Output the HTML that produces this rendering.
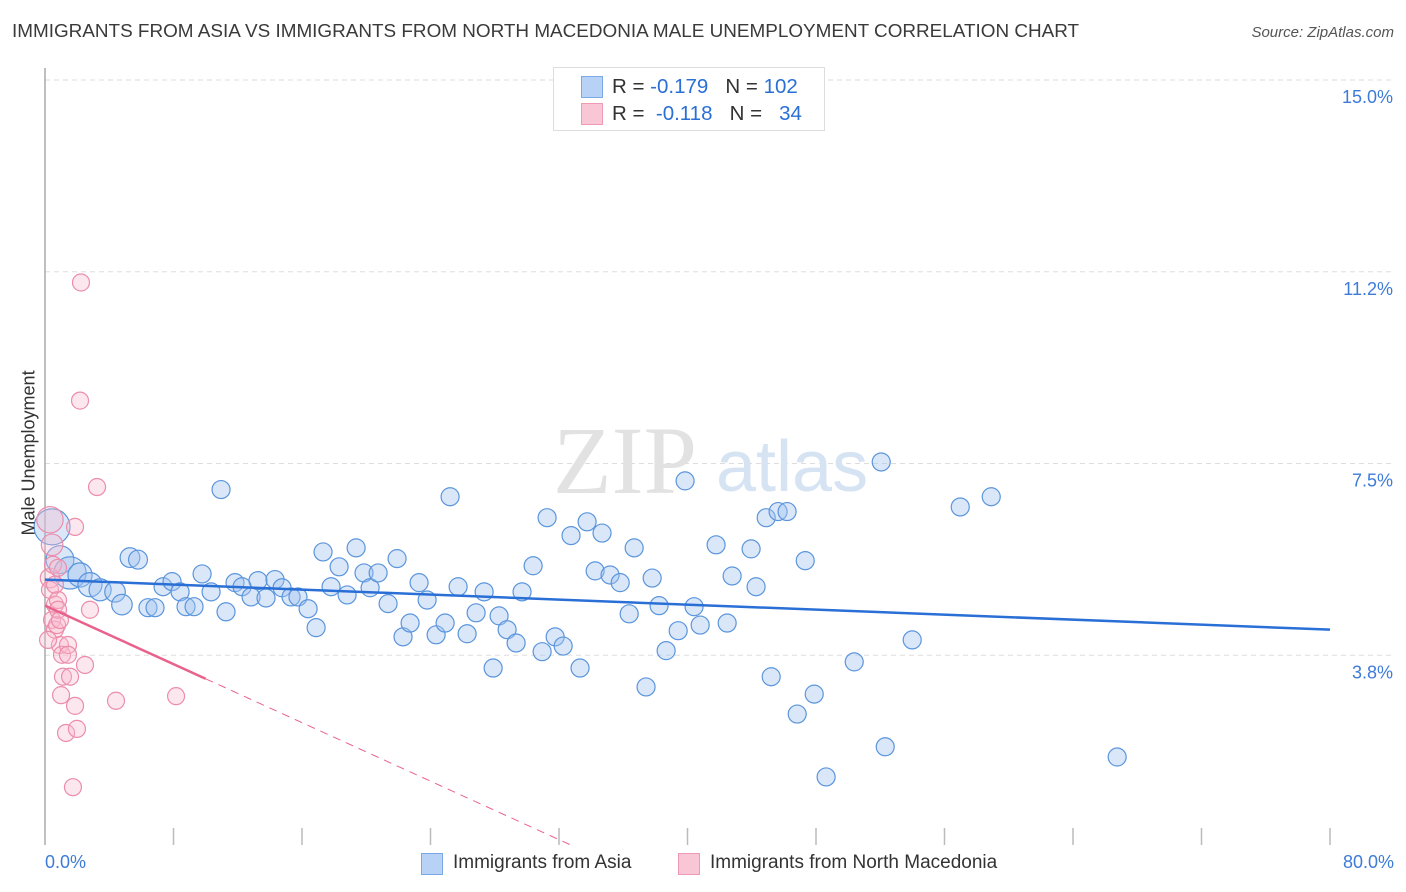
<!DOCTYPE html>
<html><head><meta charset="utf-8"><style>
body{margin:0;background:#fff;font-family:"Liberation Sans",sans-serif;}
#wrap{position:relative;width:1406px;height:892px;overflow:hidden;}
.t{position:absolute;white-space:nowrap;}
</style></head><body>
<div id="wrap">
<div class="t" style="left:12px;top:21px;font-size:18.9px;color:#3a3a3a;">IMMIGRANTS FROM ASIA VS IMMIGRANTS FROM NORTH MACEDONIA MALE UNEMPLOYMENT CORRELATION CHART</div>
<div class="t" style="right:12px;top:24px;font-size:15px;color:#555;font-style:italic;">Source: ZipAtlas.com</div>
<svg id="svg" width="1406" height="892" style="position:absolute;left:0;top:0"></svg>
</div>
<script>
const yTicks=[3.75,7.5,11.25,15];
const yTickLabels=["3.8%","7.5%","11.2%","15.0%"];
const xTickValues=[0,8,16,24,32,40,48,56,64,72,80];
const blueX=[0.44,0.93,1.56,2.18,2.80,3.43,4.36,4.79,5.29,5.79,6.41,6.85,7.35,7.91,8.41,8.78,9.28,9.78,10.34,10.96,11.27,11.83,12.27,12.83,13.26,13.76,14.32,14.76,15.32,15.75,16.38,16.88,17.31,17.81,18.31,18.81,19.37,19.86,20.24,20.74,21.36,21.92,22.29,22.73,23.29,23.79,24.35,24.91,25.22,25.72,26.28,26.84,27.34,27.90,28.27,28.77,29.33,29.70,30.39,30.95,31.26,31.76,32.26,32.75,33.31,33.75,34.25,34.68,35.18,35.81,36.37,36.68,37.42,37.80,38.23,38.67,39.42,39.85,40.41,40.79,41.78,42.47,42.78,43.96,44.27,44.90,45.21,45.64,46.20,46.83,47.33,47.89,48.63,50.38,52.06,52.31,53.99,56.98,58.91,66.75];
const blueY=[6.26,5.62,5.36,5.32,5.13,5.03,4.99,4.74,5.66,5.62,4.68,4.68,5.09,5.19,4.99,4.70,4.70,5.34,4.99,6.99,4.60,5.17,5.09,4.89,5.21,4.87,5.23,5.07,4.89,4.89,4.66,4.29,5.77,5.09,5.48,4.93,5.85,5.36,5.07,5.36,4.76,5.64,4.11,4.38,5.17,4.83,4.15,4.38,6.85,5.09,4.17,4.58,4.99,3.50,4.52,4.25,3.99,4.99,5.50,3.82,6.44,4.11,3.93,6.09,3.50,6.36,5.40,6.14,5.32,5.17,4.56,5.85,3.13,5.26,4.72,3.84,4.23,7.16,4.70,4.34,5.91,4.38,5.30,5.83,5.09,6.44,3.33,6.56,6.56,2.60,5.60,2.99,1.37,3.62,7.53,1.96,4.05,6.65,6.85,1.76];
const blueWeight=[4,2.4,3.2,1.8,1.8,1.5,1.3,1.3,1.2,1.1];
const pinkX=[0.31,0.44,0.31,0.31,0.62,0.81,0.44,0.62,0.75,0.93,1.06,1.43,1.43,1.12,1.56,1.00,1.87,1.31,1.99,1.74,1.87,2.24,2.18,3.24,2.80,2.49,4.42,8.16,0.81,0.62,0.50,0.81,0.19,0.93];
const pinkY=[6.40,5.91,5.26,5.03,4.74,4.83,4.44,4.25,4.34,3.95,3.76,3.95,3.76,3.33,3.33,2.97,2.76,2.23,2.31,1.17,6.26,11.04,8.73,7.04,4.64,3.56,2.86,2.95,4.64,5.13,5.52,5.46,4.05,4.44];
const pinkWeight=[2.4,1.6,1.3];
const blueTrend=[5.23,-0.01225];
const pinkTrend=[4.72,-0.143];
const NS="http://www.w3.org/2000/svg";
const svg=document.getElementById('svg');
const X0=45,X1=1330,YT=80,YB=847;
const xs=v=>X0+(v/80)*(X1-X0);
const ys=v=>YB-(v/15)*(YB-YT);
function mk(tag,attrs,parent){const e=document.createElementNS(NS,tag);for(const k in attrs)e.setAttribute(k,attrs[k]);(parent||svg).appendChild(e);return e;}
yTicks.forEach((t,i)=>{
 const g=mk('line',{x1:X0,x2:1393,y1:ys(t),y2:ys(t),stroke:'#ddd','stroke-dasharray':'5,4'});
 
 
 const tx=mk('text',{x:1393,y:ys(t)+23,'text-anchor':'end','font-size':18,fill:'#3d7bd9','font-family':'Liberation Sans'});
 tx.textContent=yTickLabels[i];
 
 
});
const ax=mk('line',{x1:X0,x2:X0,y1:68,y2:845,stroke:'#aaa','stroke-width':1.5});


xTickValues.forEach(v=>{
 const tk=mk('line',{x1:xs(v),x2:xs(v),y1:828,y2:845,stroke:'#bbb','stroke-width':1.5});
 
 
});
const wm=mk('text',{x:553,y:493,'font-size':96,fill:'#e2e2e2','font-family':'Liberation Serif'});
wm.textContent='ZIP';


const wm2=mk('text',{x:716,y:491,'font-size':72,fill:'#d6e3f3','font-family':'Liberation Sans'});
wm2.textContent='atlas';


blueX.forEach((x,i)=>{
 const w=blueWeight[i]||1;
 const c=mk('circle',{cx:xs(x),cy:ys(blueY[i]),r:9*Math.sqrt(w),fill:'rgba(160,196,240,0.4)',stroke:'#5b95dc','stroke-width':1.2});
 
 
});
pinkX.forEach((x,i)=>{
 const w=pinkWeight[i]||1;
 const c=mk('circle',{cx:xs(x),cy:ys(pinkY[i]),r:8.5*Math.sqrt(w),fill:'rgba(248,185,205,0.35)',stroke:'#eb8dab','stroke-width':1.2});
 
 
});
const bl=mk('line',{x1:xs(0),y1:ys(blueTrend[0]),x2:xs(80),y2:ys(blueTrend[0]+blueTrend[1]*80),stroke:'#2a6fd6','stroke-width':2.5});


const pl=mk('line',{x1:xs(0),y1:ys(pinkTrend[0]),x2:xs(10),y2:ys(pinkTrend[0]+pinkTrend[1]*10),stroke:'#e8628c','stroke-width':2.5});


const xEnd=-pinkTrend[0]/pinkTrend[1];
const pd=mk('line',{x1:xs(10),y1:ys(pinkTrend[0]+pinkTrend[1]*10),x2:xs(xEnd),y2:ys(0),stroke:'#e8628c','stroke-width':1,'stroke-dasharray':'8,6'});


</script>
<div class="t" style="left:-51px;top:445px;transform:rotate(-90deg);font-size:18px;color:#333;width:160px;text-align:center;">Male Unemployment</div>
<div class="t" style="left:45px;top:852px;font-size:18px;color:#3d7bd9;">0.0%</div>
<div class="t" style="right:12px;top:852px;font-size:18px;color:#3d7bd9;">80.0%</div>
<div style="position:absolute;left:553px;top:67px;width:270px;height:62px;border:1px solid #ddd;background:#fff;font-size:20.5px;">
 <div style="position:absolute;left:27px;top:8px;width:20px;height:20px;background:#b7d2f5;border:1px solid #7aa9e6;"></div>
 <div class="t" style="left:58px;top:7px;color:#333;">R = <span style="color:#2a6fd6">-0.179</span>&nbsp;&nbsp;&nbsp;N = <span style="color:#2a6fd6">102</span></div>
 <div style="position:absolute;left:27px;top:35px;width:20px;height:20px;background:#f9c6d6;border:1px solid #ee9ab5;"></div>
 <div class="t" style="left:58px;top:34px;color:#333;">R = &nbsp;<span style="color:#2a6fd6">-0.118</span>&nbsp;&nbsp;&nbsp;N = &nbsp;&nbsp;<span style="color:#2a6fd6">34</span></div>
</div>
<div style="position:absolute;left:421px;top:853px;">
 <div style="position:absolute;left:0;top:0;width:20px;height:20px;background:#b7d2f5;border:1px solid #7aa9e6;"></div>
 <div class="t" style="left:32px;top:-1px;font-size:19px;color:#333;">Immigrants from Asia</div>
</div>
<div style="position:absolute;left:678px;top:853px;">
 <div style="position:absolute;left:0;top:0;width:20px;height:20px;background:#f9c6d6;border:1px solid #ee9ab5;"></div>
 <div class="t" style="left:32px;top:-1px;font-size:19px;color:#333;">Immigrants from North Macedonia</div>
</div>
</body></html>
